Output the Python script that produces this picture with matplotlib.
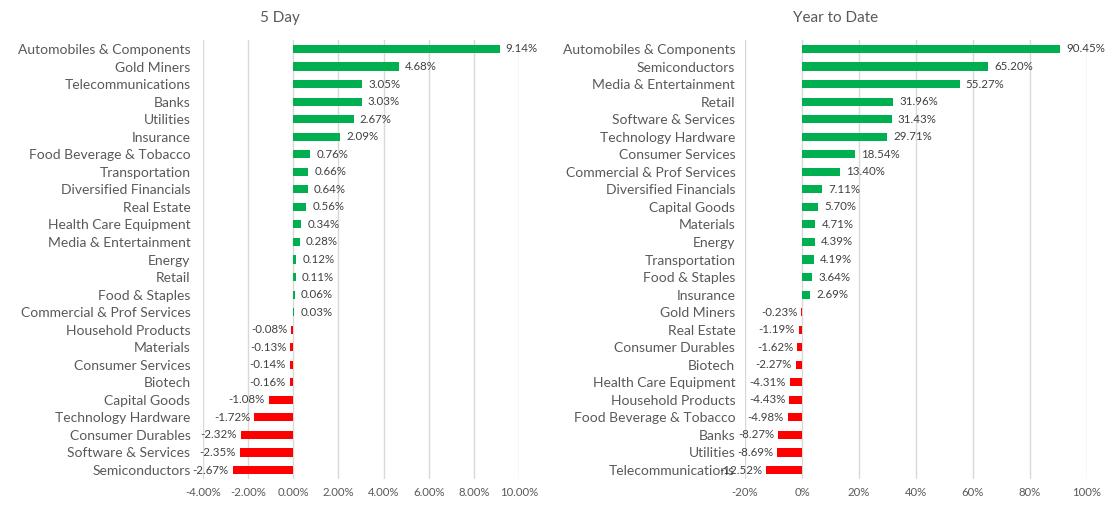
import matplotlib
matplotlib.use('Agg')
import matplotlib.pyplot as plt

# 5 day returns (%), top to bottom
day5_names = ['Automobiles & Components', 'Gold Miners', 'Telecommunications', 'Banks',
              'Utilities', 'Insurance', 'Food Beverage & Tobacco', 'Transportation',
              'Diversified Financials', 'Real Estate', 'Health Care Equipment',
              'Media & Entertainment', 'Energy', 'Retail', 'Food & Staples',
              'Commercial & Prof Services', 'Household Products', 'Materials',
              'Consumer Services', 'Biotech', 'Capital Goods', 'Technology Hardware',
              'Consumer Durables', 'Software & Services', 'Semiconductors']
day5_vals = [9.14, 4.68, 3.05, 3.03, 2.67, 2.09, 0.76, 0.66, 0.64, 0.56, 0.34, 0.28,
             0.12, 0.11, 0.06, 0.03, -0.08, -0.13, -0.14, -0.16, -1.08, -1.72,
             -2.32, -2.35, -2.67]

# year to date returns (%), top to bottom
ytd_names = ['Automobiles & Components', 'Semiconductors', 'Media & Entertainment', 'Retail',
             'Software & Services', 'Technology Hardware', 'Consumer Services',
             'Commercial & Prof Services', 'Diversified Financials', 'Capital Goods',
             'Materials', 'Energy', 'Transportation', 'Food & Staples', 'Insurance',
             'Gold Miners', 'Real Estate', 'Consumer Durables', 'Biotech',
             'Health Care Equipment', 'Household Products', 'Food Beverage & Tobacco',
             'Banks', 'Utilities', 'Telecommunications']
ytd_vals = [90.45, 65.20, 55.27, 31.96, 31.43, 29.71, 18.54, 13.40, 7.11, 5.70, 4.71,
            4.39, 4.19, 3.64, 2.69, -0.23, -1.19, -1.62, -2.27, -4.31, -4.43, -4.98,
            -8.27, -8.69, -12.52]

day5_ticks = [-4, -2, 0, 2, 4, 6, 8, 10]
ytd_ticks = [-20, 0, 20, 40, 60, 80, 100]

GREEN = '#00B050'
RED = '#FF0000'
TXT = '#595959'

plt.rcParams['font.family'] = ['Lato', 'DejaVu Sans']

fig = plt.figure(figsize=(11.08, 5.07), dpi=100)
ax1 = fig.add_axes([0.1832, 0.0556, 0.2852, 0.8651])
ax2 = fig.add_axes([0.6724, 0.0556, 0.3087, 0.8651])


def draw(ax, names, vals, ticks, fmt, title, pad, title_x):
    ys = list(range(len(names)))
    cols = [GREEN if v >= 0 else RED for v in vals]
    ax.barh(ys, vals, height=0.46, color=cols, zorder=3)
    ax.set_ylim(len(names) - 0.5, -0.5)
    ax.set_yticks(ys)
    ax.set_yticklabels(names, fontsize=10, color=TXT)
    ax.set_xlim(ticks[0], ticks[-1])
    ax.set_xticks(ticks)
    ax.set_xticklabels([fmt(t) for t in ticks], fontsize=8.2, color=TXT)
    ax.tick_params(axis='y', length=0, pad=pad)
    ax.tick_params(axis='x', length=0, pad=6)
    ax.grid(axis='x', color='#D9D9D9', linewidth=1, zorder=0)
    for s in ax.spines.values():
        s.set_visible(False)
    for y, v in zip(ys, vals):
        if v >= 0:
            ax.annotate('%.2f%%' % v, (v, y), xytext=(4.5, 0), textcoords='offset points',
                        ha='left', va='center', fontsize=8.3, color='#404040')
        else:
            ax.annotate('%.2f%%' % v, (v, y), xytext=(-3, 0), textcoords='offset points',
                        ha='right', va='center', fontsize=8.3, color='#404040')
    fig.text(title_x, 0.965, title, ha='center', va='center', fontsize=11, color=TXT)


draw(ax1, day5_names, day5_vals, day5_ticks, lambda t: '%.2f%%' % t, '5 Day', 9, 0.253)
draw(ax2, ytd_names, ytd_vals, ytd_ticks, lambda t: '%d%%' % t, 'Year to Date', 7, 0.754)

fig.savefig('out.png', dpi=100)
